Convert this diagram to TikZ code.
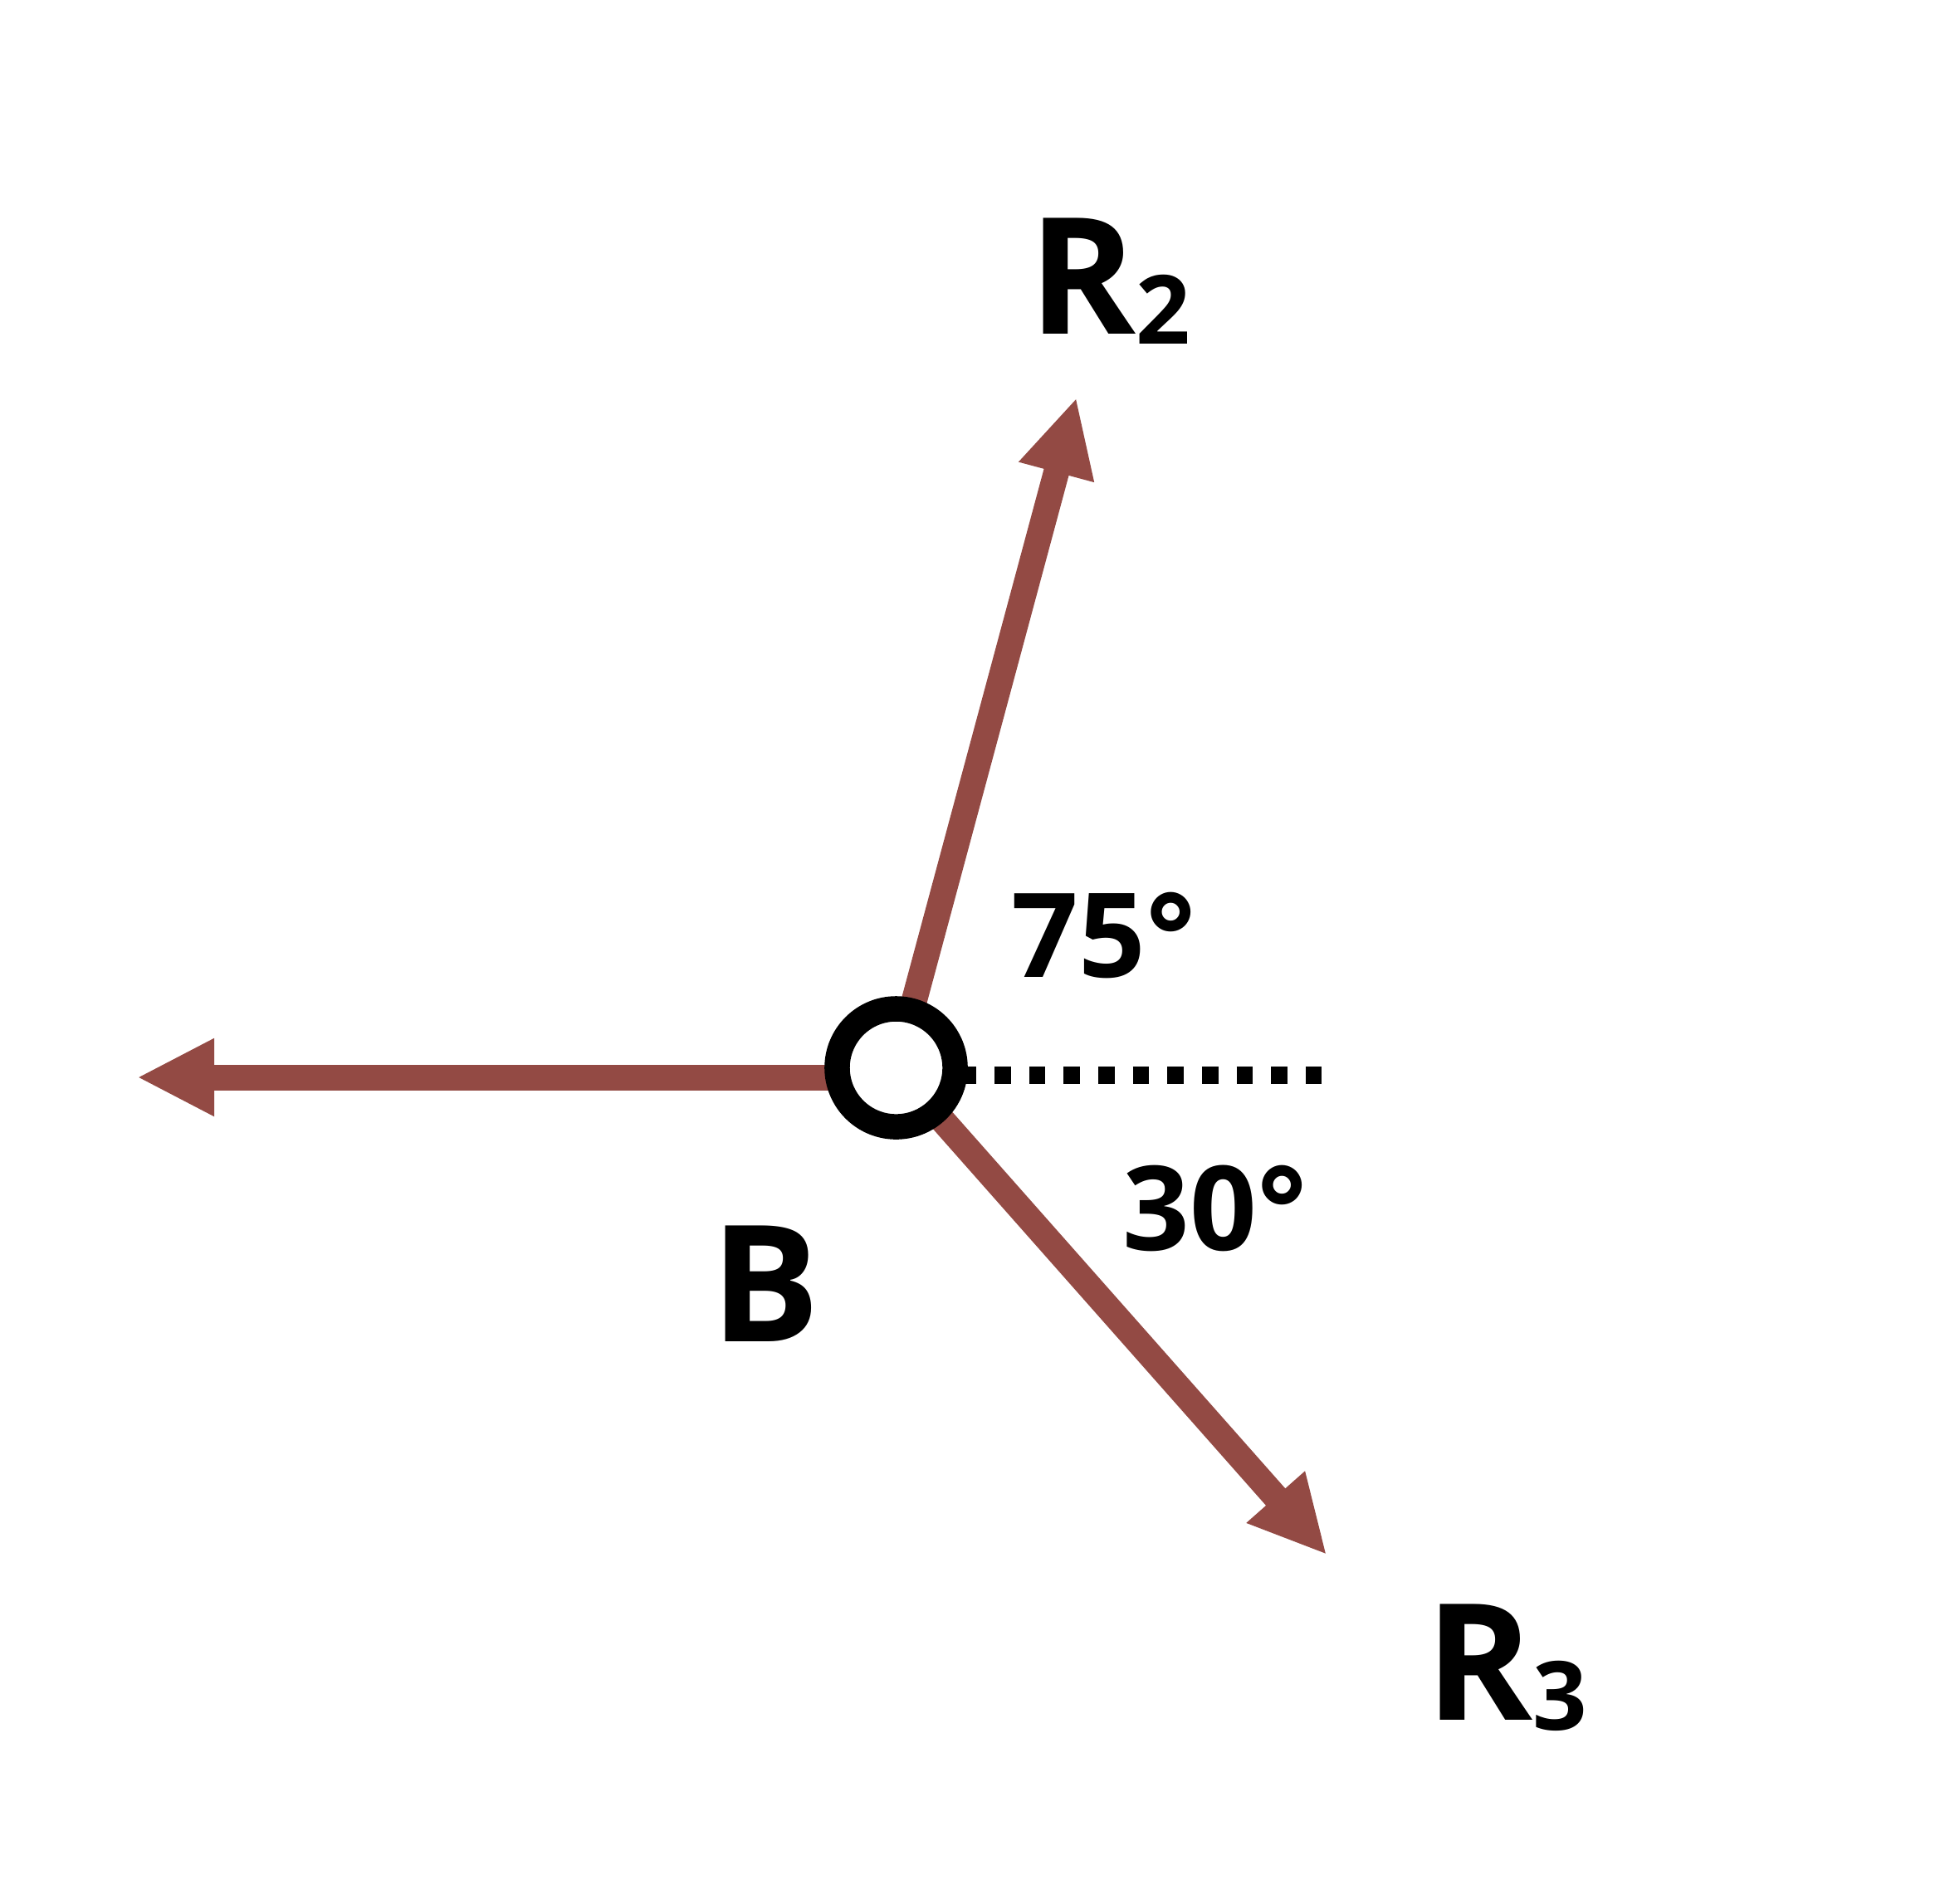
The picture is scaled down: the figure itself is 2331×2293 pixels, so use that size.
\documentclass[tikz,border=0pt]{standalone}
\usepackage{fontspec}
\setmainfont{Open Sans}
\usepackage{xcolor}
\usetikzlibrary{arrows.meta,calc}

\definecolor{forcered}{RGB}{147,74,68}
\newcommand{\lowidx}[1]{\raisebox{-1.27mm}{\fontsize{32.7}{36}\selectfont #1}}

\begin{document}
\begin{tikzpicture}[
  x=0.01cm, y=-0.01cm,
  force/.style={draw=forcered, line width=3.1mm, -{Triangle[length=9.3mm, width=8.7mm]}},
  ring/.style={circle, draw, line width=3.05mm, fill=white, minimum size=14.2mm, inner sep=0pt},
  refline/.style={draw, line width=2.1mm, dash pattern=on 1.95mm off 2.21mm},
  lbl/.style={anchor=base west, inner sep=0pt, font=\bfseries\fontsize{55.6}{60}\selectfont},
  ang/.style={anchor=base west, inner sep=0pt, font=\bfseries\fontsize{40.2}{44}\selectfont},
]
\useasboundingbox (0,0) rectangle (2331,2293);

\coordinate (b) at (1079.5,1286.5);
\coordinate (lstart) at (1079.5,1298);
\coordinate (ltip) at (165,1298);
\coordinate (r2tip) at (1296.7,479);
\coordinate (r3tip) at (1598.3,1873.3);
\coordinate (dstart) at (1156.6,1295.5);
\coordinate (dend) at (1593.7,1295.5);

% forces
\draw[force] (lstart) -- (ltip);
\draw[force] (b) -- (r2tip);
\draw[force] (b) -- (r3tip);
\draw[refline] (dstart) -- (dend);

\node[ring] (joint) at (b) {};

% labels
\node[lbl] (r2) at (1239,402) {R\lowidx{2}};
\node[lbl] (r3) at (1717,2072) {R\lowidx{3}};
\node[lbl] (bl) at (856,1616) {B};
\node[ang] (a75) at (1218,1177.5) {75°};
\node[ang] (a30) at (1352,1506) {30°};
\end{tikzpicture}
\end{document}
